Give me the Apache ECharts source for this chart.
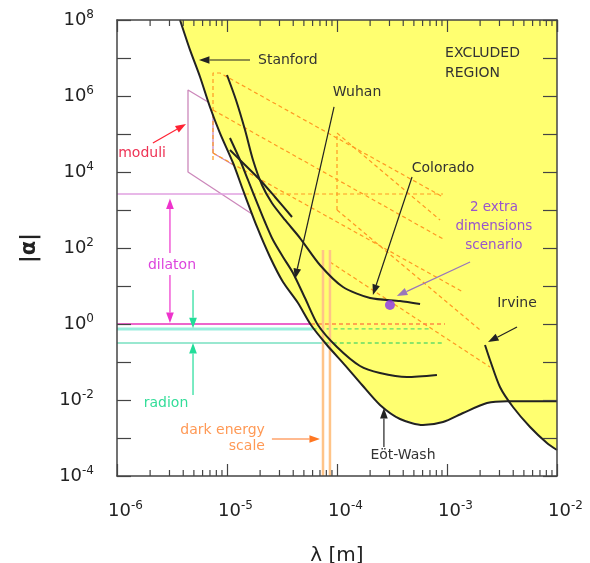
<!DOCTYPE html>
<html><head><meta charset="utf-8">
<script src="https://cdn.jsdelivr.net/npm/echarts@6/dist/echarts.min.js"></script>
<style>html,body{margin:0;padding:0;background:#fff}#c{width:590px;height:563px}</style>
</head><body><div id="c"></div>
<script>
// ---------------- data (λ in m, |α|) ----------------
const xTickExponents = [-6, -5, -4, -3, -2];
const yTickExponents = [-4, -2, 0, 2, 4, 6, 8];

const eotWash2007 = [[3.74e-6,1e8],[4.61e-6,1.63e7],[5.69e-6,3.16e6],[7.0e-6,5.14e5],[8.63e-6,1.06e5],[1.135e-5,1.73e4],[1.397e-5,3.36e3],[1.875e-5,357],[2.46e-5,58],[3.23e-5,12.7],[4.42e-5,3.57],[5.8e-5,0.94],[8.1e-5,0.28],[1.18e-4,0.083],[1.69e-4,0.0248],[2.46e-4,7.4e-3],[3.74e-4,3.16e-3],[6.05e-4,2.2e-3],[9.2e-4,2.64e-3],[1.4e-3,4.55e-3],[2.31e-3,8.3e-3],[3.5e-3,9.3e-3],[1e-2,9.3e-3]];
const eotWash2004 = [[1.064e-5,7.85e4],[1.313e-5,2.07e4],[1.552e-5,6.16e3],[1.914e-5,1.35e3],[2.214e-5,483],[2.62e-5,162],[3.23e-5,58],[3.98e-5,22],[5.12e-5,4.83],[6.71e-5,0.94],[1.0e-4,0.248],[1.62e-4,0.0785],[2.46e-4,0.0514],[4.33e-4,0.0403],[8.1e-4,0.0455]];
const colorado = [[1e-5,3.57e6],[1.207e-5,7.85e5],[1.459e-5,1.27e5],[1.723e-5,2.07e4],[2.08e-5,4.55e3],[2.56e-5,1.53e3],[3.37e-5,546],[4.61e-5,183],[7.0e-5,35.7],[1.134e-4,9.4],[2.0e-4,4.83],[3.74e-4,4.03],[5.69e-4,3.36]];
const stanford = [[1.064e-5,3.79e4],[1.459e-5,1.53e4],[2.0e-5,6.16e3],[2.73e-5,2.2e3],[3.9e-5,655]];
const irvine = [[2.216e-3,0.28],[2.46e-3,0.113],[3.03e-3,0.022],[3.98e-3,6.55e-3],[5.69e-3,1.95e-3],[8.1e-3,7.4e-4],[1e-2,4.83e-4]];
const irvineCross = [3.69e-3, 9.3e-3];

const moduliOutline = [[1.183e-5,1.44e4],[7.46e-6,3.16e4],[7.46e-6,5.8e5],[4.42e-6,1.44e6],[4.42e-6,1e4],[1.687e-5,785]];
const dilatonUpper = [[1e-6,2.64e3],[1.46e-5,2.64e3]];
const dilatonLower = [[1e-6,1],[5.8e-5,1]];
const radionUpper = [[1e-6,0.74],[6.0e-5,0.74]];
const radionLower = [[1e-6,0.316],[7.9e-5,0.316]];
const dilatonUpperExcl = [[1.46e-5,2.64e3],[9.2e-4,2.64e3]];
const dilatonLowerExcl = [[5.8e-5,1],[9.59e-4,1]];
const radionUpperExcl = [[6.0e-5,0.74],[7.0e-4,0.74]];
const radionLowerExcl = [[7.9e-5,0.316],[9.2e-4,0.316]];

const extraDimA = [[7.46e-6,2.07e4],[7.46e-6,4.03e6],[8.64e-6,4.03e6],[9.2e-4,2.2e3]];
const extraDimB = [[7.46e-6,4.28e5],[9.59e-4,162]];
const extraDimC = [[7.46e-6,3.16e4],[1.40e-3,6.95]];
const extraDimD = [[1e-4,1e3],[1e-4,1.06e5],[8.64e-4,546]];
const extraDimF = [[1e-4,1e3],[2.0e-3,0.695]];
const extraDimG = [[8.63e-5,42.8],[2.46e-3,0.0738]];

const darkEnergyA = [[7.46e-5,88.5],[7.46e-5,1e-4]];
const darkEnergyB = [[8.63e-5,88.5],[8.63e-5,1e-4]];
const extraDimPoint = [[3.03e-4,3.16]];

const blackArrows = [[1.62e-5,8.86e6,5.56e-6,8.86e6],[9.4e-5,5.14e5,4.15e-5,15.3],[4.81e-4,7.38e3,2.12e-4,5.8],[2.67e-4,5.8e-4,2.67e-4,6.15e-3],[4.33e-3,0.834,2.36e-3,0.336]];
const dilatonArrows = [[3.03e-6,73.8,3.03e-6,2.0e3],[3.03e-6,19.5,3.03e-6,1.06]];
const radionArrows = [[4.91e-6,7.85,4.91e-6,0.77],[4.91e-6,0.0135,4.91e-6,0.316]];
const moduliArrows = [[2.12e-6,5.8e4,4.24e-6,1.83e5]];
const darkEnergyArrows = [[2.56e-5,9.4e-4,7.0e-5,9.4e-4]];
const extraDimArrows = [[1.62e-3,42.8,3.5e-4,5.45]];

const blackTexts = ['Stanford','EXCLUDED','REGION','Wuhan','Colorado','Irvine','Eöt-Wash'];
const blackTextAnchors = [[1.914e-5,8.86e6],[9.6e-4,1.355e7],[9.6e-4,4.03e6],[1.52e-4,1.27e6],[9.2e-4,1.27e4],[4.33e-3,3.57],[3.98e-4,3.57e-4]];
const blackTextAlign = ['left','left','left','center','center','center','center'];

// ---------------- chart ----------------
const FONT = 'DejaVu Sans';
const minorX = [];
for (let e = -6; e < -2; e++) for (let k = 2; k <= 9; k++) minorX.push([k * Math.pow(10, e), 1]);

const yellowPoly = eotWash2007.filter(p => p[0] < irvineCross[0])
  .concat([irvineCross])
  .concat(irvine.filter(p => p[0] > irvineCross[0]))
  .concat([[1e-2, 1e8]]);

function lineSeries(data, color, width, type, z, smooth) {
  return { type: 'line', data: data, showSymbol: false, symbol: 'none', silent: true, animation: false,
    smooth: smooth || 0, z: z, lineStyle: { color: color, width: width, type: type || 'solid' } };
}
function arrowSeries(data, color, width, head, z) {
  return { type: 'custom', coordinateSystem: 'cartesian2d', data: data, silent: true, animation: false, z: z,
    dimensions: ['x1','y1','x2','y2'], encode: { x: [0, 2], y: [1, 3] },
    renderItem: function (params, api) {
      const p1 = api.coord([api.value(0), api.value(1)]);
      const p2 = api.coord([api.value(2), api.value(3)]);
      const dx = p2[0] - p1[0], dy = p2[1] - p1[1];
      const L = Math.hypot(dx, dy), ux = dx / L, uy = dy / L;
      const hl = head * 1.5, hw = head * 0.55;
      const bx = p2[0] - ux * hl, by = p2[1] - uy * hl;
      return { type: 'group', children: [
        { type: 'line', shape: { x1: p1[0], y1: p1[1], x2: bx, y2: by }, style: { stroke: color, lineWidth: width } },
        { type: 'polygon', shape: { points: [[p2[0], p2[1]], [bx - uy * hw, by + ux * hw], [bx + uy * hw, by - ux * hw]] }, style: { fill: color } }
      ] };
    } };
}
function textSeries(anchors, texts, aligns, color, size, z, lineHeight) {
  return { type: 'custom', coordinateSystem: 'cartesian2d', data: anchors, silent: true, animation: false, z: z,
    renderItem: function (params, api) {
      const p = api.coord([api.value(0), api.value(1)]);
      return { type: 'text', x: p[0], y: p[1], style: { text: texts[params.dataIndex], fill: color,
        fontSize: size, fontFamily: FONT, align: aligns[params.dataIndex], verticalAlign: 'middle', lineHeight: lineHeight || size + 4 } };
    } };
}

const axisLineStyle = { color: '#444', width: 1.5 };
const richLabels = {
  p: { width: 17, fontSize: 12 },
  b: { fontSize: 18, fontFamily: FONT, color: '#222', lineHeight: 22 },
  s: { fontSize: 12, fontFamily: FONT, color: '#222', verticalAlign: 'top', lineHeight: 13 }
};

const option = {
  backgroundColor: '#fff',
  animation: false,
  textStyle: { fontFamily: FONT },
  grid: { left: 117, right: 33, top: 20, bottom: 87, containLabel: false, outerBoundsMode: 'none' },
  xAxis: [
    { type: 'log', logBase: 10, min: 1e-6, max: 1e-2, interval: 1, position: 'bottom', z: 10,
      name: 'λ [m]', nameLocation: 'middle', nameGap: 70, nameTextStyle: { fontSize: 20, color: '#222', fontFamily: FONT },
      axisLine: { lineStyle: axisLineStyle }, axisTick: { inside: true, length: 12, lineStyle: { color: '#444', width: 1.2 } },
      splitLine: { show: false },
      axisLabel: { margin: 24, rich: richLabels, formatter: function (v) {
        const e = Math.round(Math.log10(v));
        return xTickExponents.indexOf(e) >= 0 ? '{p| }{b|10}{s|' + e + '}' : ''; } } },
    { type: 'log', logBase: 10, min: 1e-6, max: 1e-2, interval: 1, position: 'top', z: 10,
      axisLine: { lineStyle: axisLineStyle }, axisTick: { inside: true, length: 12, lineStyle: { color: '#444', width: 1.2 } },
      axisLabel: { show: false }, splitLine: { show: false } }
  ],
  yAxis: [
    { type: 'log', logBase: 10, min: 1e-4, max: 1e8, interval: 1, position: 'left', z: 10,
      name: '|α|', nameLocation: 'middle', nameGap: 77, nameRotate: 90, nameTextStyle: { fontSize: 21, fontWeight: 'bold', color: '#222', fontFamily: FONT },
      axisLine: { lineStyle: axisLineStyle }, axisTick: { inside: true, length: 14, lineStyle: { color: '#444', width: 1.2 } },
      splitLine: { show: false },
      axisLabel: { margin: 23, rich: richLabels, formatter: function (v) {
        const e = Math.round(Math.log10(v));
        return yTickExponents.indexOf(e) >= 0 ? '{b|10}{s|' + e + '}' : ''; } } },
    { type: 'log', logBase: 10, min: 1e-4, max: 1e8, interval: 1, position: 'right', z: 10,
      axisLine: { lineStyle: axisLineStyle }, axisTick: { inside: true, length: 14, lineStyle: { color: '#444', width: 1.2 } },
      axisLabel: { show: false }, splitLine: { show: false } }
  ],
  series: [
    lineSeries(moduliOutline, '#cc88bb', 1.3, 'solid', 2),
    lineSeries(dilatonUpper, '#e0a0e0', 1.5, 'solid', 2),
    lineSeries(dilatonLower, '#ee66cc', 1.8, 'solid', 2),
    lineSeries(radionUpper, '#99eedd', 3, 'solid', 2),
    lineSeries(radionLower, '#77e0c0', 1.5, 'solid', 2),
    { type: 'custom', coordinateSystem: 'cartesian2d', data: [[1e-4, 1]], silent: true, animation: false, z: 3,
      renderItem: function (params, api) {
        return { type: 'polygon', shape: { points: yellowPoly.map(p => api.coord(p)) }, style: { fill: '#ffff70' } };
      } },
    lineSeries(extraDimA, '#ff9922', 1.2, [4, 3], 4),
    lineSeries(extraDimB, '#ff9922', 1.2, [4, 3], 4),
    lineSeries(extraDimC, '#ff9922', 1.2, [4, 3], 4),
    lineSeries(extraDimD, '#ff9922', 1.2, [4, 3], 4),
    lineSeries(extraDimF, '#ff9922', 1.2, [4, 3], 4),
    lineSeries(extraDimG, '#ff9922', 1.2, [4, 3], 4),
    lineSeries(dilatonUpperExcl, '#ff9922', 1.2, [4, 3], 4),
    lineSeries(dilatonLowerExcl, '#ff8844', 1.3, [4, 3], 4),
    lineSeries(radionUpperExcl, '#66dd66', 1.3, [4, 3], 4),
    lineSeries(radionLowerExcl, '#66dd66', 1.3, [4, 3], 4),
    lineSeries(darkEnergyA, '#ffc488', 2.5, 'solid', 5),
    lineSeries(darkEnergyB, '#ffc488', 2.5, 'solid', 5),
    lineSeries(eotWash2007, '#222', 2, 'solid', 6, 0.25),
    lineSeries(eotWash2004, '#222', 2, 'solid', 6, 0.25),
    lineSeries(colorado, '#222', 2, 'solid', 6, 0.25),
    lineSeries(stanford, '#222', 2, 'solid', 6, 0.25),
    lineSeries(irvine, '#222', 2, 'solid', 6, 0.25),
    { type: 'scatter', data: extraDimPoint, symbolSize: 10, silent: true, animation: false, z: 7, itemStyle: { color: '#8833ee' } },
    arrowSeries(blackArrows, '#222', 1.2, 7, 7),
    arrowSeries(dilatonArrows, '#ee33cc', 1.2, 7, 7),
    arrowSeries(radionArrows, '#22dd99', 1.2, 7, 7),
    arrowSeries(moduliArrows, '#ff2233', 1.2, 7, 7),
    arrowSeries(darkEnergyArrows, '#ff7722', 1.2, 7, 7),
    arrowSeries(extraDimArrows, '#9977bb', 1.2, 7, 7),
    textSeries(blackTextAnchors, blackTexts, blackTextAlign, '#333', 14, 8),
    textSeries([[1.69e-6,3.16e4]], ['moduli'], ['center'], '#ee3355', 14, 8),
    textSeries([[3.16e-6,35.7]], ['dilaton'], ['center'], '#dd44dd', 14, 8),
    textSeries([[2.79e-6,8.3e-3]], ['radion'], ['center'], '#33dd99', 14, 8),
    textSeries([[2.21e-5,1.0e-3]], ['dark energy\nscale'], ['right'], '#ff9955', 14, 8, 16),
    textSeries([[2.67e-3,357]], ['2 extra\ndimensions\nscenario'], ['center'], '#9955cc', 13.5, 8, 19),
    { type: 'custom', coordinateSystem: 'cartesian2d', data: minorX, silent: true, animation: false, z: 9,
      renderItem: function (params, api) {
        const p = api.coord([api.value(0), api.value(1)]);
        const cs = params.coordSys;
        const b = cs.y + cs.height, t = cs.y;
        return { type: 'group', children: [
          { type: 'line', shape: { x1: p[0], y1: b, x2: p[0], y2: b - 6 }, style: { stroke: '#444', lineWidth: 1.2 } },
          { type: 'line', shape: { x1: p[0], y1: t, x2: p[0], y2: t + 6 }, style: { stroke: '#444', lineWidth: 1.2 } }
        ] };
      } }
  ]
};
const chart = echarts.init(document.getElementById('c'));
chart.setOption(option);
</script>
</body></html>
